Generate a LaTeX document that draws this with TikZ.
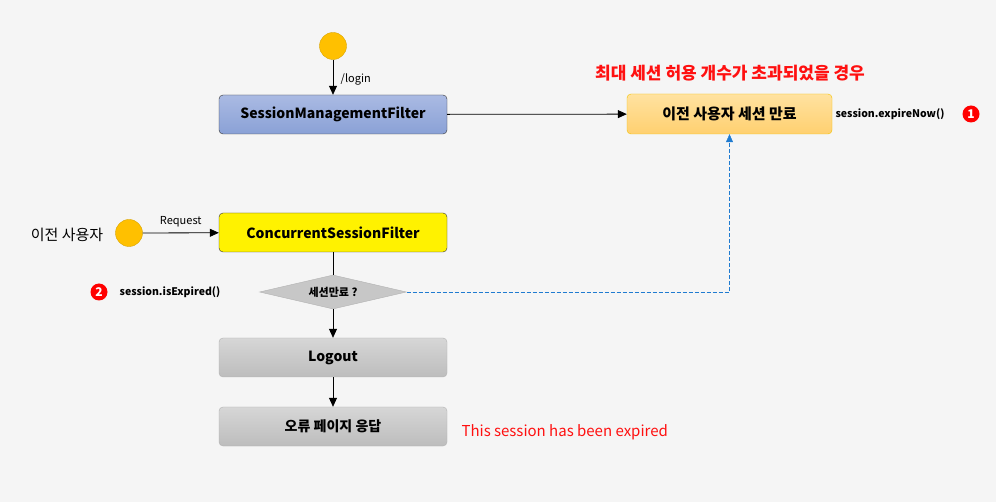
\documentclass[tikz,border=0pt]{standalone}
\usepackage{fontspec}
\setmainfont{Noto Sans CJK KR}
\usepackage{tikz}
\usetikzlibrary{shapes.geometric,arrows.meta}
\definecolor{bgray}{HTML}{F5F5F5}
\definecolor{ballfill}{HTML}{FFC000}
\definecolor{ballline}{HTML}{D9A400}
\definecolor{bluetop}{HTML}{AABAE3}
\definecolor{bluebot}{HTML}{8AA1D6}
\definecolor{orgtop}{HTML}{FFE2A0}
\definecolor{orgbot}{HTML}{FFD070}
\definecolor{orgline}{HTML}{F2C200}
\definecolor{dashblue}{HTML}{1F7BD0}
\definecolor{txtred}{HTML}{FF1010}

\begin{document}
\begin{tikzpicture}[x=1pt,y=-1pt,
    box/.style={draw=black!80, rounded corners=4pt, minimum width=228pt, minimum height=39pt, inner sep=0pt, font=\fontsize{14}{16}\selectfont\bfseries},
    graybox/.style={box, draw=black!30, top color=black!16, bottom color=black!26},
    ball/.style={circle, draw=ballline, fill=ballfill, minimum size=27pt, inner sep=0pt},
    num/.style={circle, fill=red, text=white, minimum size=17pt, inner sep=0pt, font=\fontsize{12}{12}\selectfont\bfseries},
    small/.style={font=\fontsize{11}{12}\selectfont},
    arr/.style={-{Triangle[length=9pt,width=8pt]}, thick}]
    \fill[bgray] (0,0) rectangle (996,502);
    \useasboundingbox (0,0) rectangle (996,502);

    \node[ball] (start) at (333,46) {};
    \node[box, top color=bluetop, bottom color=bluebot] (smf) at (333,114.5) {SessionManagementFilter};
    \node[box, minimum width=205pt, minimum height=40pt, draw=orgline, top color=orgtop, bottom color=orgbot, font=\fontsize{15}{16}\selectfont\bfseries] (expire) at (729.5,114) {이전 사용자 세션 만료};
    \node[text=txtred, font=\fontsize{17}{18}\selectfont\bfseries] (maxmsg) at (730,73) {최대 세션 허용 개수가 초과되었을 경우};
    \node[small, font=\fontsize{10.5}{12}\selectfont\bfseries] (expnow) at (890,114) {session.expireNow()};
    \node[num] (one) at (971,114) {1};

    \node[font=\fontsize{15}{16}\selectfont] (user) at (67,235) {이전 사용자};
    \node[ball] (req) at (129,233) {};
    \node[box, fill=yellow] (csf) at (333,232.5) {ConcurrentSessionFilter};
    \node[diamond, draw=black!30, fill=black!22, aspect=4.3, minimum width=147pt, minimum height=34pt, inner sep=0pt, font=\fontsize{11}{12}\selectfont\bfseries] (check) at (333,292) {세션만료 ?};
    \node[num] (two) at (99,292) {2};
    \node[small, font=\fontsize{10.5}{12}\selectfont\bfseries] (isexp) at (170,292) {session.isExpired()};

    \node[graybox] (logout) at (333,357.5) {Logout};
    \node[graybox] (errpage) at (333,426.5) {오류 페이지 응답};
    \node[text=txtred, anchor=west, font=\fontsize{15}{16}\selectfont] (msg) at (458,432) {This session has been expired};

    \draw[arr] (start) -- node[small, right, xshift=4pt, yshift=-2pt] {/login} (smf);
    \draw[arr] (smf) -- (expire);
    \draw[arr] (req) -- node[small, above, yshift=2pt] {Request} (csf);
    \draw[thick] (csf) -- (check);
    \draw[arr] (check) -- (logout);
    \draw[arr] (logout) -- (errpage);
    \draw[dashblue, dash pattern=on 4pt off 2pt, -{Triangle[length=8pt,width=7pt]}] (check.east) -| (expire.south);
\end{tikzpicture}
\end{document}
